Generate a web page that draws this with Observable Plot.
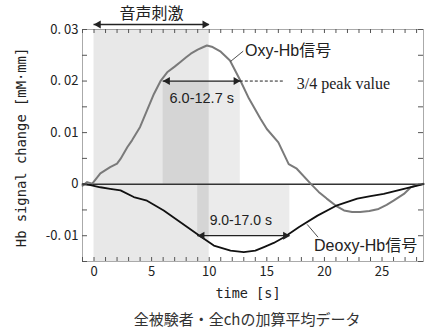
<!DOCTYPE html>
<html><head><meta charset="utf-8">
<script src="https://cdn.jsdelivr.net/npm/d3@7"></script>
<script src="https://cdn.jsdelivr.net/npm/@observablehq/plot@0.6"></script>
<style>body{margin:0;background:#fff;} svg{display:block}</style>
</head><body><div id="chart"></div>
<script>
// ---- data ----
const oxyTime  = [-1.0, -0.6, -0.15, 0.55, 1.4, 2.0, 2.3, 2.9, 3.3, 4.0, 4.6, 5.2, 5.8, 6.35, 7.0, 7.5, 8.0, 8.4, 9.0, 9.5, 9.8, 10.3, 11.0, 11.8, 12.7, 13.45, 14.45, 15.0, 16.0, 16.9, 17.6, 18.8, 19.5, 20.2, 21.0, 21.7, 22.4, 23.1, 23.9, 24.7, 25.4, 26.0, 26.9, 27.5, 28.0, 28.6];
const oxyValue = [-0.0003, 0.0004, 0.0001, 0.0021, 0.0033, 0.0040, 0.0049, 0.0072, 0.0085, 0.0111, 0.0143, 0.0175, 0.0201, 0.0217, 0.0228, 0.0237, 0.0246, 0.0253, 0.0261, 0.0266, 0.0269, 0.0266, 0.0257, 0.0240, 0.0201, 0.0166, 0.0127, 0.0107, 0.0081, 0.0039, 0.0030, 0.0001, -0.0015, -0.0028, -0.0042, -0.0051, -0.0054, -0.0054, -0.0052, -0.0048, -0.0040, -0.0032, -0.0019, -0.0006, -0.0002, 0.0001];
const deoxyTime  = [-1.0, -0.3, 0.55, 1.4, 2.3, 3.45, 4.6, 6.05, 7.5, 9.1, 10.4, 11.85, 13.0, 14.0, 14.75, 15.6, 16.5, 17.8, 19.4, 21.1, 22.85, 24.0, 25.15, 26.9, 28.6];
const deoxyValue = [0.0, -0.0002, -0.0006, -0.0009, -0.0012, -0.0025, -0.0032, -0.0051, -0.0074, -0.0099, -0.0119, -0.0129, -0.0132, -0.0129, -0.0122, -0.0114, -0.0103, -0.0083, -0.0061, -0.0041, -0.0028, -0.0023, -0.0019, -0.0009, 0.0];
const xTickValues = [0, 5, 10, 15, 20, 25];
const yTickValues = [-0.01, 0, 0.01, 0.02, 0.03];
const xDomain = [-1, 28.6];
const yDomain = [-0.015, 0.03];
const stimulusWindow = [0, 10];
const oxyWindow = [6.0, 12.7];
const oxyLevel = 0.02;      // 3/4 of Oxy peak
const deoxyWindow = [9.0, 17.0];
const deoxyLevel = -0.01;   // 3/4 of Deoxy trough
const stimulusLabel = "音声刺激";
const oxyLabel = "Oxy-Hb信号";
const deoxyLabel = "Deoxy-Hb信号";
const oxyRangeLabel = "6.0-12.7 s";
const deoxyRangeLabel = "9.0-17.0 s";
const peakLabel = "3/4 peak value";
const yLabel = "Hb signal change [mM·mm]";
const xLabel = "time [s]";
const captionLabel = "全被験者・全chの加算平均データ";
// annotation anchor points (data units)
const oxyLeader = {t1: 11.85, v1: 0.0238, t2: 12.95, v2: 0.0258, tText: 13.1, vText: 0.0259};
const deoxyLeader = {t1: 18.5, v1: -0.0078, t2: 19.45, v2: -0.0103, tText: 19.1, vText: -0.0119};
const peakDashEnd = 16.6, peakTextT = 17.6;

const oxy = oxyTime.map((t, i) => ({t, v: oxyValue[i]}));
const deoxy = deoxyTime.map((t, i) => ({t, v: deoxyValue[i]}));
const minorX = d3.range(-1, 29, 1);
const minorY = d3.range(-0.015, 0.0301, 0.005);

const ink = "#222";
const sans = "'Liberation Sans', 'Noto Sans CJK JP', sans-serif";
const cjk = "'Noto Sans CJK JP', sans-serif";
const mono = "'DejaVu Sans Mono', monospace";

function doubleArrow(x1, x2, y, dy = 0) {
  return [
    Plot.ruleY([y], {x1, x2, dy, stroke: ink, strokeWidth: 1.3}),
    Plot.dot([x1], {x: d => d, y: () => y, dy, dx: 4.4, symbol: "triangle", r: 3, rotate: -90, fill: ink, stroke: "none"}),
    Plot.dot([x2], {x: d => d, y: () => y, dy, dx: -4.4, symbol: "triangle", r: 3, rotate: 90, fill: ink, stroke: "none"})
  ];
}

const chart = Plot.plot({
  width: 431, height: 330,
  marginLeft: 82, marginRight: 8, marginTop: 29, marginBottom: 69,
  x: {domain: xDomain, label: null},
  y: {domain: yDomain, label: null},
  style: {background: "white", color: ink},
  marks: [
    // shaded windows
    Plot.rect([stimulusWindow], {x1: d => d[0], x2: d => d[1], y1: yDomain[0], y2: yDomain[1], fill: "#000", fillOpacity: 0.09}),
    Plot.rect([oxyWindow], {x1: d => d[0], x2: d => d[1], y1: 0, y2: oxyLevel, fill: "#000", fillOpacity: 0.08}),
    Plot.rect([deoxyWindow], {x1: d => d[0], x2: d => d[1], y1: deoxyLevel, y2: 0, fill: "#000", fillOpacity: 0.08}),
    // zero line
    Plot.ruleY([0], {stroke: "#333", strokeWidth: 1.5}),
    // curves
    Plot.line(oxy, {x: "t", y: "v", stroke: "#7a7a7a", strokeWidth: 2}),
    Plot.line(deoxy, {x: "t", y: "v", stroke: "#111", strokeWidth: 1.8}),
    // frame and inward ticks
    Plot.frame({stroke: "#555", strokeDasharray: "1,1"}),
    Plot.tickX(minorX, {x: d => d, insetTop: 228, stroke: "#555"}),
    Plot.tickX(minorX, {x: d => d, insetBottom: 228, stroke: "#555"}),
    Plot.tickY(minorY, {y: d => d, insetRight: 336, stroke: "#555"}),
    Plot.tickY(minorY, {y: d => d, insetLeft: 336, stroke: "#555"}),
    // axes
    Plot.axisX({ticks: xTickValues, tickSize: 0, tickPadding: 5, fontSize: 13, fontFamily: cjk, label: null}),
    Plot.axisY({ticks: yTickValues, tickSize: 0, tickPadding: 4, fontSize: 13, fontFamily: cjk, label: null,
      tickFormat: d => d === 0 ? "0" : d.toFixed(2).replace(".", ". ")}),
    Plot.text([yLabel], {text: d => d, frameAnchor: "left", textAnchor: "middle", lineAnchor: "middle", rotate: -90, dx: -61, dy: 2, fontSize: 13.8, fontFamily: mono, fill: ink}),
    Plot.text([xLabel], {text: d => d, frameAnchor: "bottom", lineAnchor: "middle", dx: -5, dy: 32, fontSize: 13.5, fontFamily: mono, fill: ink}),
    Plot.text([captionLabel], {text: d => d, frameAnchor: "bottom", lineAnchor: "middle", dx: -6, dy: 59, fontSize: 15, fontFamily: cjk, fill: "#333"}),
    // stimulus annotation
    Plot.text([stimulusLabel], {text: d => d, x: () => (stimulusWindow[0] + stimulusWindow[1]) / 2, frameAnchor: "top", lineAnchor: "middle", dy: -16, fontSize: 16, fontFamily: cjk, fill: ink}),
    ...doubleArrow(stimulusWindow[0], stimulusWindow[1], yDomain[1], -5),
    // oxy window
    ...doubleArrow(oxyWindow[0], oxyWindow[1], oxyLevel),
    Plot.text([oxyRangeLabel], {text: d => d, x: () => (oxyWindow[0] + oxyWindow[1]) / 2, y: () => oxyLevel, dy: 17, fontSize: 14.5, fontFamily: sans, fill: ink}),
    Plot.ruleY([oxyLevel], {x1: oxyWindow[1], x2: peakDashEnd, stroke: ink, strokeDasharray: "3,2"}),
    Plot.text([peakLabel], {text: d => d, x: () => peakTextT, y: () => oxyLevel, dy: 3, textAnchor: "start", fontSize: 16, fontFamily: "'Liberation Serif', serif", fill: ink}),
    // deoxy window
    ...doubleArrow(deoxyWindow[0], deoxyWindow[1], deoxyLevel),
    Plot.text([deoxyRangeLabel], {text: d => d, x: () => (deoxyWindow[0] + deoxyWindow[1]) / 2, y: () => deoxyLevel, dx: -3, dy: -15, fontSize: 14, fontFamily: sans, fill: ink}),
    // curve labels with leaders
    Plot.link([oxyLeader], {x1: "t1", y1: "v1", x2: "t2", y2: "v2", stroke: ink, strokeWidth: 0.8}),
    Plot.text([oxyLeader], {text: () => oxyLabel, x: "tText", y: "vText", textAnchor: "start", fontSize: 16, fontFamily: sans, fill: ink}),
    Plot.link([deoxyLeader], {x1: "t1", y1: "v1", x2: "t2", y2: "v2", stroke: ink, strokeWidth: 0.8}),
    Plot.text([deoxyLeader], {text: () => deoxyLabel, x: "tText", y: "vText", textAnchor: "start", fontSize: 16, fontFamily: sans, fill: ink})
  ]
});
document.getElementById("chart").appendChild(chart);
</script>
</body></html>
